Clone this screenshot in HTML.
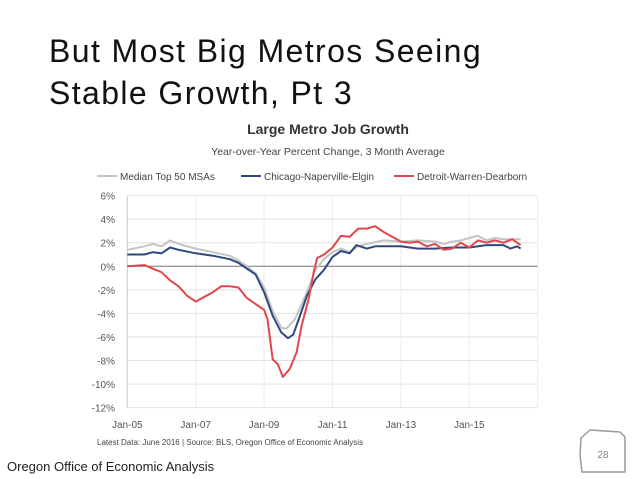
<!DOCTYPE html>
<html><head><meta charset="utf-8"><style>
body{margin:0;background:#fff;font-family:"Liberation Sans",sans-serif;}
#wrap{position:relative;width:638px;height:479px;overflow:hidden;background:#fff}
.t{position:absolute;white-space:nowrap}
</style></head><body>
<div id="wrap">
<div class="t" style="left:49px;top:30px;font-size:32px;line-height:42px;letter-spacing:1.4px;color:#111">But Most Big Metros Seeing<br>Stable Growth, Pt 3</div>
<svg id="chart" width="638" height="479" style="position:absolute;left:0;top:0"></svg>
<div class="t" style="left:7px;top:459px;font-size:13px;color:#222">Oregon Office of Economic Analysis</div>
</div>
<script>
const tickLabels=["6%","4%","2%","0%","-2%","-4%","-6%","-8%","-10%","-12%"];
const tickValues=[6,4,2,0,-2,-4,-6,-8,-10,-12];
const xTickLabels=["Jan-05","Jan-07","Jan-09","Jan-11","Jan-13","Jan-15"];
const xTickYears=[2005,2007,2009,2011,2013,2015];
const medianX=[2005,2005.5,2005.75,2006,2006.25,2006.5,2007,2007.5,2008,2008.25,2008.5,2008.75,2009,2009.25,2009.5,2009.65,2009.9,2010.25,2010.5,2010.75,2011,2011.25,2011.5,2011.75,2012,2012.5,2013,2013.5,2014,2014.25,2014.5,2014.75,2015,2015.25,2015.5,2015.75,2016,2016.5];
const medianY=[1.4,1.7,1.9,1.7,2.2,1.9,1.5,1.2,0.9,0.5,0,-0.6,-1.8,-3.8,-5.2,-5.3,-4.5,-2.2,-0.3,0.6,1.2,1.5,1.2,1.7,1.9,2.2,2.1,2.2,2.1,1.9,2.1,2.2,2.4,2.6,2.2,2.4,2.3,2.3];
const chicagoX=[2005,2005.5,2005.75,2006,2006.25,2006.5,2007,2007.5,2008,2008.25,2008.5,2008.75,2009,2009.25,2009.5,2009.7,2009.85,2010,2010.25,2010.5,2010.75,2011,2011.25,2011.5,2011.7,2012,2012.25,2012.5,2013,2013.5,2014,2014.5,2015,2015.5,2016,2016.2,2016.4,2016.5];
const chicagoY=[1.0,1.0,1.2,1.1,1.6,1.4,1.1,0.9,0.6,0.3,-0.2,-0.7,-2.2,-4.2,-5.6,-6.1,-5.8,-4.6,-2.5,-1.1,-0.3,0.8,1.3,1.1,1.8,1.5,1.7,1.7,1.7,1.5,1.5,1.6,1.6,1.8,1.8,1.5,1.7,1.5];
const detroitX=[2005,2005.5,2005.75,2006,2006.25,2006.5,2006.75,2007,2007.25,2007.5,2007.75,2008,2008.25,2008.5,2008.75,2009,2009.1,2009.25,2009.4,2009.55,2009.75,2009.95,2010.1,2010.3,2010.45,2010.55,2010.75,2011,2011.25,2011.5,2011.75,2012,2012.25,2012.5,2012.75,2013,2013.25,2013.5,2013.75,2014,2014.25,2014.5,2014.75,2015,2015.25,2015.5,2015.75,2016,2016.25,2016.5];
const detroitY=[0,0.1,-0.2,-0.5,-1.2,-1.7,-2.5,-3.0,-2.6,-2.2,-1.7,-1.7,-1.8,-2.7,-3.2,-3.7,-4.5,-7.9,-8.3,-9.4,-8.7,-7.3,-5.0,-2.8,-0.5,0.7,1.0,1.6,2.6,2.5,3.2,3.2,3.4,2.9,2.5,2.1,2.0,2.1,1.7,1.9,1.4,1.5,2.0,1.6,2.2,2.0,2.2,2.0,2.3,1.8];

const NS="http://www.w3.org/2000/svg";
const svg=document.getElementById('chart');
const L=127.3,R=537.7,x0=2005,x1=2017;
const xs=v=>L+(v-x0)/(x1-x0)*(R-L);
const ys=v=>266.3-v*11.78;
function mk(tag,attrs,parent){const e=document.createElementNS(NS,tag);for(const k in attrs)e.setAttribute(k,attrs[k]);(parent||svg).appendChild(e);return e;}
function txt(s,attrs){const e=mk('text',attrs);e.textContent=s;return e;}

let t=txt("Large Metro Job Growth",{x:328,y:134,'text-anchor':'middle','font-size':14,'font-weight':'bold',fill:'#333'});


t=txt("Year-over-Year Percent Change, 3 Month Average",{x:328,y:155,'text-anchor':'middle','font-size':10.5,fill:'#444'});



const leg=[["Median Top 50 MSAs","#c4c4c4",97],["Chicago-Naperville-Elgin","#2e4a7d",241],["Detroit-Warren-Dearborn","#e0474c",394]];
leg.forEach(l=>{
 const g=mk('g',{});
 
 
 mk('line',{x1:l[2],x2:l[2]+20,y1:176,y2:176,stroke:l[1],'stroke-width':2},g);
 const tt=mk('text',{x:l[2]+23,y:180,'font-size':10,fill:'#444'},g);tt.textContent=l[0];
});

tickValues.forEach((v,i)=>{
 if(v!==0){const g=mk('line',{x1:L,x2:R,y1:ys(v),y2:ys(v),stroke:'#e2e2e2','stroke-width':1});
 
 }
 const tl=txt(tickLabels[i],{x:115,y:ys(v)+4,'text-anchor':'end','font-size':10,fill:'#555'});
 
 
});
xTickYears.forEach((yv,i)=>{
 const g=mk('line',{x1:xs(yv),x2:xs(yv),y1:ys(6),y2:ys(-12),stroke:'#ececec','stroke-width':1});
 
 
 const tl=txt(xTickLabels[i],{x:xs(yv),y:428,'text-anchor':'middle','font-size':10,fill:'#555'});
 
 
});
mk('line',{x1:R,x2:R,y1:ys(6),y2:ys(-12),stroke:'#ececec'});
const z=mk('line',{x1:L,x2:R,y1:ys(0),y2:ys(0),stroke:'#777','stroke-width':1});


const ax=mk('line',{x1:L,x2:L,y1:ys(6),y2:ys(-12),stroke:'#ccc'});



function series(X,Y,color,name){
 const p=mk('polyline',{points:X.map((x,i)=>xs(x).toFixed(1)+','+ys(Y[i]).toFixed(1)).join(' '),fill:'none',stroke:color,'stroke-width':2,'stroke-linejoin':'round'});
 
 
}
series(medianX,medianY,'#c4c4c4','median-line');
series(chicagoX,chicagoY,'#2e4a7d','chicago-line');
series(detroitX,detroitY,'#e0474c','detroit-line');

t=txt("Latest Data: June 2016  |  Source: BLS, Oregon Office of Economic Analysis",{x:97,y:445,'font-size':8,fill:'#444'});



const o=mk('path',{d:'M581 438 L590 430 L620 432 L625 437 L625 472 L582 472 L580 455 Z',fill:'none',stroke:'#999','stroke-width':1.5});


t=txt("28",{x:603,y:458,'text-anchor':'middle','font-size':10,fill:'#888'});


</script>
</body></html>
